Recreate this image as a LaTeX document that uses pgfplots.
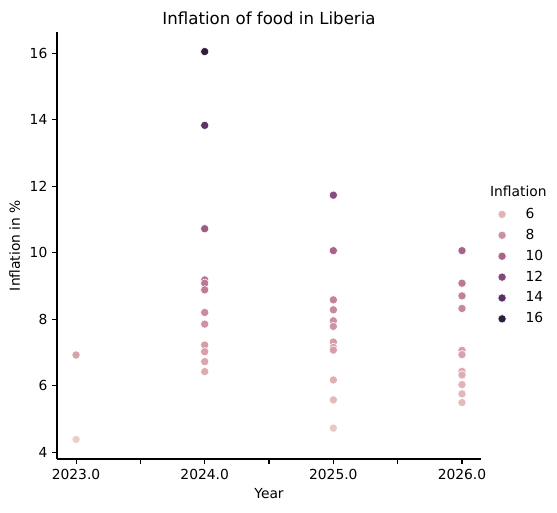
\documentclass[border=0pt]{standalone}
\usepackage{fontspec}
\setmainfont{DejaVu Sans}
\usepackage{pgfplots}
\pgfplotsset{compat=1.18}

\definecolor{c6}{RGB}{226,178,180}
\definecolor{c8}{RGB}{205,143,162}
\definecolor{c10}{RGB}{170,100,140}
\definecolor{c12}{RGB}{131,72,124}
\definecolor{c14}{RGB}{90,50,100}
\definecolor{c16}{RGB}{45,30,62}

\pgfplotstableread{
year infl
2023 6.92
2023 4.38
2024 16.05
2024 13.83
2024 10.72
2024 9.18
2024 9.08
2024 8.88
2024 8.20
2024 7.85
2024 7.22
2024 7.02
2024 6.72
2024 6.42
2025 11.73
2025 10.06
2025 8.58
2025 8.28
2025 7.95
2025 7.78
2025 7.31
2025 7.15
2025 7.07
2025 6.17
2025 5.57
2025 4.72
2026 10.06
2026 9.08
2026 8.70
2026 8.32
2026 7.06
2026 6.93
2026 6.43
2026 6.32
2026 6.03
2026 5.75
2026 5.49
}\inflation

\begin{document}
\begin{tikzpicture}
\begin{axis}[
    name=ax,
    scale only axis,
    width=306.4pt,
    height=308.6pt,
    xmin=2022.852, xmax=2026.148,
    ymin=3.79, ymax=16.64,
    axis lines=left,
    axis line style={-, line width=0.8pt},
    xtick={2023,2023.5,2024,2024.5,2025,2025.5,2026},
    xticklabels={2023.0,,2024.0,,2025.0,,2026.0},
    ytick={4,6,8,10,12,14,16},
    tick align=outside,
    major tick length=3.5pt,
    tick style={black, line width=0.8pt},
    /pgf/number format/assume math mode=true,
    ticklabel style={font=\fontsize{10}{12}\selectfont},
    xlabel={Year},
    ylabel={Inflation in \%},
    label style={font=\fontsize{10}{12}\selectfont},
    title={Inflation of food in Liberia},
    title style={font=\fontsize{12}{14}\selectfont, yshift=-4pt},
    colormap={seab}{rgb255(0pt)=(236,206,200) rgb255(139pt)=(226,178,180) rgb255(310pt)=(205,143,162) rgb255(480pt)=(170,100,140) rgb255(653pt)=(131,72,124) rgb255(824pt)=(90,50,100) rgb255(1000pt)=(45,30,62)},
    point meta min=4.38, point meta max=16.05,
    legend image code/.code={
        \path[draw=none, fill=none] (0pt,0pt) rectangle (27pt,0pt);
        \draw[#1] plot coordinates {(12pt,0pt)};
    },
    legend style={draw=none, fill=none, at={(1.0,0.601)}, anchor=north west,
        font=\fontsize{10}{12}\selectfont, row sep=2.2pt},
    legend cell align=left,
]
\addplot[scatter, only marks, mark=*, mark size=3pt, line width=0.4pt,
    scatter/use mapped color={draw=white, fill=mapped color},
    forget plot] table[x=year, y=infl] {\inflation};
\addlegendimage{only marks, mark=*, mark size=3pt, color=c6, mark options={draw=white, line width=0.4pt}}
\addlegendentry{6}
\addlegendimage{only marks, mark=*, mark size=3pt, color=c8, mark options={draw=white, line width=0.4pt}}
\addlegendentry{8}
\addlegendimage{only marks, mark=*, mark size=3pt, color=c10, mark options={draw=white, line width=0.4pt}}
\addlegendentry{10}
\addlegendimage{only marks, mark=*, mark size=3pt, color=c12, mark options={draw=white, line width=0.4pt}}
\addlegendentry{12}
\addlegendimage{only marks, mark=*, mark size=3pt, color=c14, mark options={draw=white, line width=0.4pt}}
\addlegendentry{14}
\addlegendimage{only marks, mark=*, mark size=3pt, color=c16, mark options={draw=white, line width=0.4pt}}
\addlegendentry{16}
\end{axis}
\node[anchor=south, font=\fontsize{10}{12}\selectfont, inner sep=1pt] at ([xshift=27pt,yshift=-120pt]ax.north east) {Inflation};
\pgfresetboundingbox
\useasboundingbox ([xshift=-41.2pt,yshift=-38.3pt]ax.south west) rectangle ([xshift=54.9pt,yshift=23.1pt]ax.north east);
\end{tikzpicture}
\end{document}
